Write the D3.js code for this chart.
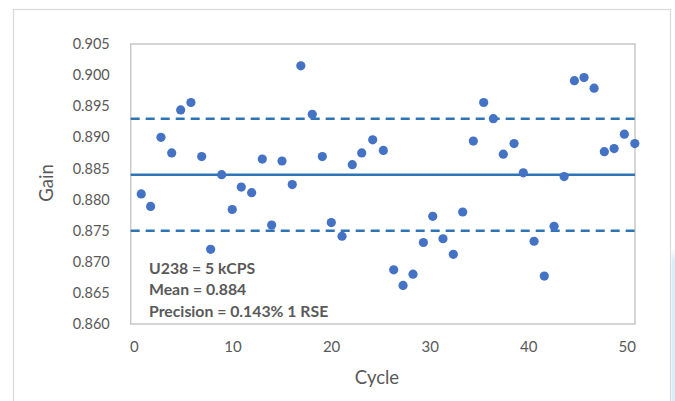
<!DOCTYPE html>
<html>
<head>
<meta charset="utf-8">
<script src="https://cdn.jsdelivr.net/npm/d3@7"></script>
<style>
  html, body { margin: 0; padding: 0; background: #ffffff; }
  svg { display: block; }
</style>
</head>
<body>
<svg id="chart" width="675" height="401"></svg>
<script>
// ---- Data ----
const cycles = [0.74, 1.69, 2.74, 3.83, 4.74, 5.78, 6.87, 7.78, 8.90, 9.97,
  10.89, 11.94, 13.02, 13.97, 15.02, 16.06, 16.93, 18.09, 19.11, 20.02,
  21.11, 22.15, 23.11, 24.22, 25.30, 26.35, 27.30, 28.31, 29.36, 30.31,
  31.35, 32.40, 33.35, 34.43, 35.48, 36.46, 37.47, 38.56, 39.50, 40.59,
  41.63, 42.62, 43.64, 44.68, 45.66, 46.68, 47.72, 48.71, 49.75, 50.81];
const gain = [0.8809, 0.8789, 0.8900, 0.8875, 0.8944, 0.8956, 0.8869, 0.8720, 0.8840, 0.8784,
  0.8820, 0.8811, 0.8865, 0.8759, 0.8862, 0.8824, 0.9015, 0.8937, 0.8869, 0.8763,
  0.8741, 0.8856, 0.8875, 0.8896, 0.8879, 0.8687, 0.8662, 0.8680, 0.8731, 0.8773,
  0.8737, 0.8712, 0.8780, 0.8894, 0.8956, 0.8930, 0.8873, 0.8890, 0.8843, 0.8733,
  0.8677, 0.8757, 0.8837, 0.8991, 0.8996, 0.8979, 0.8877, 0.8882, 0.8905, 0.8890];
const meanValue = 0.884;
const bandValues = [0.893, 0.875];
const yTicks = [0.860, 0.865, 0.870, 0.875, 0.880, 0.885, 0.890, 0.895, 0.900, 0.905];
const xTicks = [0, 10, 20, 30, 40, 50];
const annotation = ["U238 = 5 kCPS", "Mean = 0.884", "Precision = 0.143% 1 RSE"];
const xTitle = "Cycle";
const yTitle = "Gain";

// ---- Layout ----
const svg = d3.select("#chart");
const plot = { left: 130.7, right: 635, top: 44, bottom: 324 };
const textColor = "#595959";
const font = "Lato, 'Open Sans', sans-serif";

const x = d3.scaleLinear().domain([-0.33, 50.83]).range([plot.left, plot.right]);
const y = d3.scaleLinear().domain([0.860, 0.905]).range([plot.bottom, plot.top]);

// outer chart border
svg.append("rect")
  .attr("x", 13.5).attr("y", 9.5).attr("width", 657).attr("height", 420)
  .attr("fill", "#ffffff").attr("stroke", "#d9d9d9").attr("stroke-width", 1.2);

// light cyan strip at right edge (background artifact)
const grad = svg.append("defs").append("linearGradient")
  .attr("id", "cyanFade").attr("x1", 0).attr("y1", 0).attr("x2", 0).attr("y2", 1);
grad.append("stop").attr("offset", "0").attr("stop-color", "#ffffff");
grad.append("stop").attr("offset", "0.08").attr("stop-color", "#d7eff9");
grad.append("stop").attr("offset", "1").attr("stop-color", "#d7eff9");
svg.append("rect").attr("x", 671.5).attr("y", 248).attr("width", 4).attr("height", 160)
  .attr("fill", "url(#cyanFade)");

// plot frame
svg.append("rect")
  .attr("x", plot.left).attr("y", plot.top)
  .attr("width", plot.right - plot.left).attr("height", plot.bottom - plot.top)
  .attr("fill", "none").attr("stroke", "#c8c8c8").attr("stroke-width", 1.5);

// y axis
const yAxis = svg.append("g")
  .attr("transform", `translate(${plot.left},0)`)
  .call(d3.axisLeft(y).tickValues(yTicks).tickFormat(d3.format(".3f")).tickSize(0).tickPadding(21));
yAxis.select(".domain").remove();
yAxis.selectAll("text").attr("fill", textColor).style("font-family", font).style("font-size", "14.5px");

// x axis
const xAxis = svg.append("g")
  .attr("transform", `translate(0,${plot.bottom})`)
  .call(d3.axisBottom(x).tickValues(xTicks).tickFormat(d3.format("d")).tickSize(0).tickPadding(17));
xAxis.select(".domain").remove();
xAxis.selectAll("text").attr("fill", textColor).style("font-family", font).style("font-size", "15px");

// axis titles
svg.append("text")
  .attr("x", 377).attr("y", 384)
  .attr("text-anchor", "middle")
  .attr("fill", textColor).style("font-family", font).style("font-size", "18.5px")
  .text(xTitle);
svg.append("text")
  .attr("transform", `translate(53,${(plot.top + plot.bottom) / 2 - 1}) rotate(-90)`)
  .attr("text-anchor", "middle")
  .attr("fill", textColor).style("font-family", font).style("font-size", "18.5px")
  .text(yTitle);

// reference lines
const lineColor = "#2e75b6";
svg.append("line")
  .attr("x1", plot.left).attr("x2", plot.right)
  .attr("y1", y(meanValue)).attr("y2", y(meanValue))
  .attr("stroke", lineColor).attr("stroke-width", 2.5);
svg.selectAll("line.band").data(bandValues).enter().append("line")
  .attr("class", "band")
  .attr("x1", plot.left).attr("x2", plot.right)
  .attr("y1", d => y(d)).attr("y2", d => y(d))
  .attr("stroke", lineColor).attr("stroke-width", 2.5)
  .attr("stroke-dasharray", "9,6");

// points
const pts = cycles.map((c, i) => ({ c, g: gain[i] }));
svg.selectAll("circle.pt").data(pts).enter().append("circle")
  .attr("class", "pt")
  .attr("cx", d => x(d.c)).attr("cy", d => y(d.g))
  .attr("r", 4.6).attr("fill", "#4472c4");

// annotation
svg.selectAll("text.note").data(annotation).enter().append("text")
  .attr("class", "note")
  .attr("x", 149).attr("y", (d, i) => 273.5 + i * 21.5)
  .attr("fill", textColor).style("font-family", font)
  .style("font-size", "15.8px").style("font-weight", "bold")
  .text(d => d);
</script>
</body>
</html>
